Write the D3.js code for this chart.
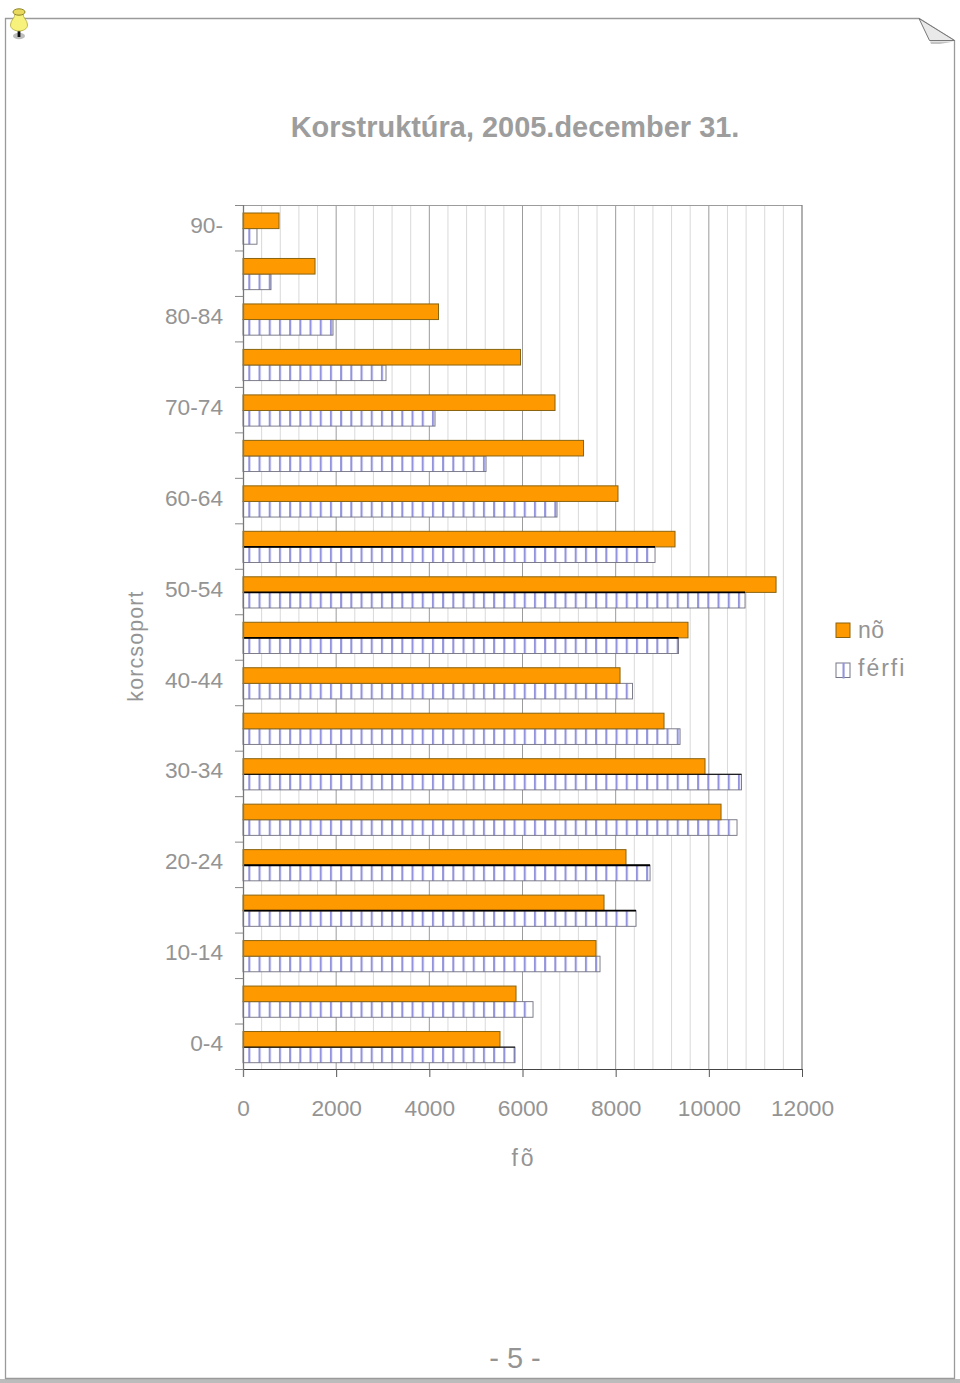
<!DOCTYPE html>
<html><head><meta charset="utf-8">
<script src="https://cdn.jsdelivr.net/npm/d3@7/dist/d3.min.js"></script>
<style>html,body{margin:0;padding:0;background:#fff}svg{display:block}text{font-family:"Liberation Sans",Arial,sans-serif}</style>
</head><body><div id="c"></div>
<script>
const categories=["90-","85-89","80-84","75-79","70-74","65-69","60-64","55-59","50-54","45-49","40-44","35-39","30-34","25-29","20-24","15-19","10-14","5-9","0-4"];
const shownLabels=["90-","80-84","70-74","60-64","50-54","40-44","30-34","20-24","10-14","0-4"];
const noValues=[773,1546,4197,5957,6698,7310,8050,9274,11443,9553,8094,9038,9918,10262,8222,7750,7578,5861,5517];
const ferfiValues=[300,601,1932,3070,4122,5217,6741,8845,10777,9350,8362,9382,10700,10605,8738,8437,7664,6226,5839];
const xTicks=[0,2000,4000,6000,8000,10000,12000];
const minorTicks=d3.range(0,12001,400);
const title="Korstruktúra, 2005.december 31.";
const seriesNames=["nõ","férfi"];
const heavyEdgeRows=["55-59","50-54","45-49","20-24","15-19"];
const lightEdgeRows=["30-34","0-4"];

const W=960,H=1383,gray="#949494",L=243,R=802,T=205,B=1069;
const svg=d3.select("#c").append("svg").attr("width",W).attr("height",H);
const defs=svg.append("defs");
const p=defs.append("pattern").attr("id","hatch").attr("patternUnits","userSpaceOnUse")
 .attr("x",L+5.3).attr("y",0).attr("width",10.2).attr("height",10);
p.append("rect").attr("width",10.2).attr("height",10).attr("fill","#fff");
p.append("rect").attr("x",0).attr("width",2.1).attr("height",10).attr("fill","#9494de");

// page frame
const page=svg.append("g");
page.append("rect").attr("x",0).attr("y",1379).attr("width",W).attr("height",4).attr("fill","#bcbcbc");
page.append("path").attr("d","M5.5 1378.5V18.5H919L954.5 40.5V1378.5Z").attr("fill","#fff").attr("stroke","#9a9a9a").attr("stroke-width",1.3);
page.append("path").attr("d","M930 41.5L954 41.5L940 44L931 44Z").attr("fill","#c4c4c4");
page.append("path").attr("d","M919 18.5L929.5 40.5H954.5Z").attr("fill","#e9e9e9").attr("stroke","#777").attr("stroke-width",1);
// pin
const pin=svg.append("g");
pin.append("ellipse").attr("cx",19).attr("cy",36).attr("rx",6).attr("ry",3.2).attr("fill","#bdbdbd");
pin.append("rect").attr("x",17.6).attr("y",30).attr("width",2.8).attr("height",7).attr("fill","#111");
pin.append("path").attr("d","M15 14C15 18 10.5 20 10.5 25C10.5 29 15 31 19 31C23 31 27.5 29 27.5 25C27.5 20 23 18 23 14Z").attr("fill","#f6f27c").attr("stroke","#b3a83c").attr("stroke-width",0.8);
pin.append("ellipse").attr("cx",19).attr("cy",12).attr("rx",6).attr("ry",3.2).attr("fill","#e9d95c").attr("stroke","#8d8328").attr("stroke-width",1);

const x=d3.scaleLinear().domain([0,12000]).range([L,R]);
const y=d3.scaleBand().domain(categories).range([T,B]).paddingInner(0).paddingOuter(0);
const yEdge=d3.scaleLinear().domain([0,categories.length]).range([T,B]);

svg.append("text").attr("x",515).attr("y",137).attr("text-anchor","middle").attr("font-size",28.95).attr("font-weight","bold").attr("fill","#9d9d9d").text(title);

// grid
const g=svg.append("g");
g.selectAll(".minor").data(minorTicks.filter(d=>d%2000)).join("line").attr("x1",d=>x(d)).attr("x2",d=>x(d)).attr("y1",T).attr("y2",B).attr("stroke","#d9d9d9").attr("stroke-width",1);
g.selectAll(".major").data(xTicks.slice(1,-1)).join("line").attr("x1",d=>x(d)).attr("x2",d=>x(d)).attr("y1",T).attr("y2",B).attr("stroke","#9c9c9c").attr("stroke-width",1);
g.append("line").attr("x1",L).attr("x2",R).attr("y1",T+.5).attr("y2",T+.5).attr("stroke","#9c9c9c");
g.append("line").attr("x1",R).attr("x2",R).attr("y1",T).attr("y2",B).attr("stroke","#7c7c7c").attr("stroke-width",1.2);

// bars
const pad=8, bh=15.6;
g.selectAll(".fe").data(categories).join("rect")
 .attr("x",L).attr("y",d=>y(d)+pad+bh).attr("width",(d,i)=>x(ferfiValues[i])-L).attr("height",bh)
 .attr("fill","url(#hatch)").attr("stroke","#70707f").attr("stroke-width",.9);
g.selectAll(".no").data(categories).join("rect")
 .attr("x",L).attr("y",d=>y(d)+pad).attr("width",(d,i)=>x(noValues[i])-L).attr("height",bh)
 .attr("fill","#ff9900").attr("stroke","#8a6410").attr("stroke-width",1);
g.selectAll(".edge").data(heavyEdgeRows.concat(lightEdgeRows)).join("line")
 .attr("x1",L).attr("x2",d=>x(ferfiValues[categories.indexOf(d)]))
 .attr("y1",d=>y(d)+pad+bh).attr("y2",d=>y(d)+pad+bh)
 .attr("stroke","#000").attr("stroke-width",d=>heavyEdgeRows.includes(d)?1.8:1);

// axes
const xAxis=d3.axisBottom(x).tickValues(xTicks).tickSize(8).tickPadding(23).tickFormat(d3.format("d"));
const xg=svg.append("g").attr("transform",`translate(0,${B})`).call(xAxis);
xg.select(".domain").attr("stroke","#444").attr("d",`M235,0.5H${R}`);
xg.selectAll(".tick line").attr("stroke","#555");
xg.selectAll("text").attr("font-size",22.7).attr("fill",gray).attr("font-family","Liberation Sans");

const tg=svg.append("g").attr("transform",`translate(${L},0)`).call(d3.axisLeft(yEdge).tickValues(d3.range(0,categories.length+1)).tickSize(8).tickFormat(""));
tg.select(".domain").attr("stroke","#777").attr("stroke-width",1.3).attr("d",`M0.5,${T}V${B+8}`);
tg.selectAll(".tick line").attr("stroke","#888");

const lg=svg.append("g").attr("transform",`translate(${L},-2.2)`).call(d3.axisLeft(y).tickValues(shownLabels).tickSize(0).tickPadding(20));
lg.select(".domain").remove();
lg.selectAll("text").attr("font-size",22.7).attr("fill",gray).attr("font-family","Liberation Sans");

// axis titles
svg.append("text").attr("transform","translate(143,646) rotate(-90)").attr("text-anchor","middle").attr("font-size",21.5).attr("letter-spacing",1.1).attr("fill",gray).text("korcsoport");
svg.append("text").attr("x",524).attr("y",1166).attr("text-anchor","middle").attr("font-size",23).attr("letter-spacing",3).attr("fill",gray).text("fõ");

// legend
const leg=svg.append("g");
[0,1].forEach(i=>{
 const yy=[623,663][i];
 leg.append("rect").attr("x",836).attr("y",yy).attr("width",14).attr("height",14.5)
  .attr("fill",i?"#fff":"#ff9900").attr("stroke",i?"#77778a":"#8a6410");
 if(i) leg.append("rect").attr("x",842.5).attr("y",yy).attr("width",2.1).attr("height",15.5).attr("fill","#9494de");
 leg.append("text").attr("x",858).attr("y",[638,676][i]).attr("font-size",23).attr("letter-spacing",i?2:0.5).attr("fill",gray).text(seriesNames[i]);
});
svg.append("text").attr("x",515).attr("y",1368).attr("text-anchor","middle").attr("font-size",29).attr("fill",gray).text("- 5 -");
</script></body></html>
